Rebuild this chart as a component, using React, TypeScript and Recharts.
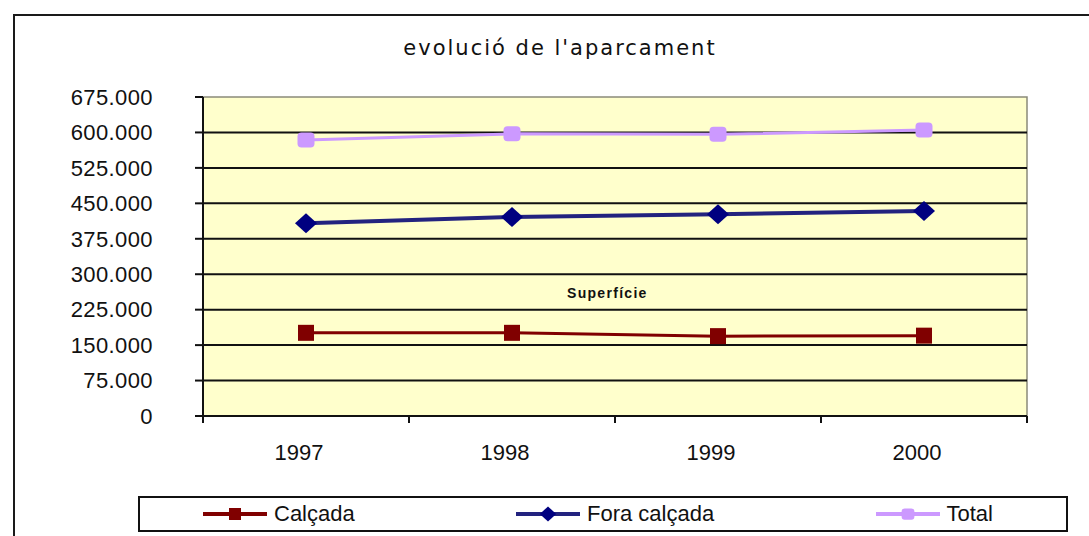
import React from 'react';
import { LineChart, Line, XAxis, YAxis, ReferenceArea, ReferenceLine, Legend } from 'recharts';

const years = ['1997', '1998', '1999', '2000'];
const calcada = [176000, 176000, 169000, 170000];
const foraCalcada = [408000, 421000, 427000, 434000];
const total = [584000, 597000, 596000, 605000];
const yTicks = [0, 75000, 150000, 225000, 300000, 375000, 450000, 525000, 600000, 675000];
const gridValues = [75000, 150000, 225000, 300000, 375000, 450000, 525000, 600000];

const title = "evolució de l'aparcament";
const innerLabel = 'Superfície';

const series = [
  { key: 'calcada', name: 'Calçada', values: calcada, line: '#800000', fill: '#800000', marker: 'square', width: 3 },
  { key: 'fora', name: 'Fora calçada', values: foraCalcada, line: '#23237f', fill: '#000080', marker: 'diamond', width: 4 },
  { key: 'total', name: 'Total', values: total, line: '#CC99FF', fill: '#CC99FF', marker: 'round', width: 3 },
];

// each category occupies one band [i, i+1]; values sit at the band centre
const data = years.map((y, i) => {
  const row: any = { year: y, pos: i + 0.5 };
  series.forEach((s) => { row[s.key] = s.values[i]; });
  return row;
});
const xDomain = [0, years.length];
const xTicks = Array.from({ length: years.length * 2 + 1 }, (_, k) => k / 2);

const fmt = (v: number) => (v === 0 ? '0' : String(v).replace(/\B(?=(\d{3})+(?!\d))/g, '.'));

const FONT = '"Liberation Sans", Arial, sans-serif';

const Marker = ({ cx, cy, kind, color, scale = 1 }: any) => {
  if (cx == null || cy == null) return null;
  if (kind === 'square') {
    const s = 16 * scale;
    return <rect x={cx - s / 2} y={cy - s / 2} width={s} height={s} fill={color} />;
  }
  if (kind === 'diamond') {
    const w = 11 * scale, h = 10 * scale;
    return <polygon points={`${cx - w},${cy} ${cx},${cy - h} ${cx + w},${cy} ${cx},${cy + h}`} fill={color} />;
  }
  const w = 17 * scale, h = 15 * scale;
  return <rect x={cx - w / 2} y={cy - h / 2} width={w} height={h} rx={4 * scale} fill={color} />;
};

const XTick = ({ x, y, payload }: any) => {
  const v = payload.value;
  if (Number.isInteger(v)) {
    return <line x1={x} y1={y} x2={x} y2={y + 7} stroke="#111" strokeWidth={2} />;
  }
  return (
    <text x={x - 7} y={y + 28} dy="0.71em" textAnchor="middle" fill="#111" fontSize={22} fontFamily={FONT}>
      {years[Math.floor(v)]}
    </text>
  );
};

const renderLegend = () => (
  <div
    style={{
      boxSizing: 'border-box',
      width: '100%',
      height: '100%',
      border: '2px solid #111',
      background: '#fff',
      display: 'flex',
      alignItems: 'center',
      justifyContent: 'space-between',
      padding: '0 73px 0 63px',
      fontFamily: FONT,
      fontSize: 22,
      color: '#111',
    }}
  >
    {series.map((s) => (
      <div key={s.key} style={{ display: 'flex', alignItems: 'center' }}>
        <svg width={64} height={20} style={{ display: 'block' }}>
          <line x1={0} y1={10} x2={64} y2={10} stroke={s.line} strokeWidth={4} />
          <Marker cx={32} cy={10} kind={s.marker} color={s.fill} scale={0.75} />
        </svg>
        <span style={{ marginLeft: 7, lineHeight: 1 }}>{s.name}</span>
      </div>
    ))}
  </div>
);

export default function App() {
  return (
    <div style={{ position: 'absolute', left: 0, top: 0, width: 1089, height: 536, overflow: 'hidden', background: '#fff' }}>
      <div
        style={{
          position: 'absolute', left: 13, top: 14, width: 1200, height: 700,
          borderLeft: '2px solid #1a1a1a', borderTop: '2px solid #1a1a1a',
        }}
      />
      <div
        style={{
          position: 'absolute', left: 310, width: 500, top: 36, textAlign: 'center',
          fontFamily: '"DejaVu Sans", sans-serif', fontSize: 21, letterSpacing: 2, color: '#111',
        }}
      >
        {title}
      </div>
      <div style={{ position: 'absolute', left: 0, top: 0 }}>
        <LineChart width={1089} height={536} data={data} margin={{ top: 97, right: 62, bottom: 80, left: 0 }}>
          <XAxis
            dataKey="pos"
            type="number"
            domain={xDomain}
            ticks={xTicks}
            interval={0}
            allowDataOverflow
            height={40}
            tickSize={0}
            tickMargin={0}
            tickLine={false}
            axisLine={{ stroke: '#111', strokeWidth: 2 }}
            tick={<XTick />}
          />
          <YAxis
            width={203}
            domain={[0, 675000]}
            ticks={yTicks}
            interval={0}
            tickFormatter={fmt}
            tickSize={8}
            tickMargin={42}
            axisLine={{ stroke: '#111', strokeWidth: 2 }}
            tickLine={{ stroke: '#111', strokeWidth: 2 }}
            tick={{ fill: '#111', fontSize: 22, fontFamily: FONT, letterSpacing: 0.4 }}
          />
          <ReferenceArea x1={xDomain[0]} x2={xDomain[1]} y1={0} y2={675000} fill="#FFFFCC" fillOpacity={1} stroke="#8a8a7a" strokeWidth={1.5} />
          {gridValues.map((v) => (
            <ReferenceLine key={v} y={v} stroke="#111" strokeWidth={2} />
          ))}
          {series.map((s) => (
            <Line
              key={s.key}
              type="linear"
              dataKey={s.key}
              name={s.name}
              stroke={s.line}
              strokeWidth={s.width}
              isAnimationActive={false}
              activeDot={false}
              dot={(p: any) => <Marker key={`${s.key}-${p.index}`} cx={p.cx} cy={p.cy} kind={s.marker} color={s.fill} />}
            />
          ))}
          <Legend
            verticalAlign="middle"
            layout="horizontal"
            content={renderLegend}
            wrapperStyle={{ position: 'absolute', left: 138, top: 496, width: 930, height: 36 }}
          />
        </LineChart>
      </div>
      <div
        style={{
          position: 'absolute', left: 567, top: 285, fontFamily: FONT, fontSize: 14,
          fontWeight: 'bold', letterSpacing: 1.3, color: '#111',
        }}
      >
        {innerLabel}
      </div>
    </div>
  );
}
